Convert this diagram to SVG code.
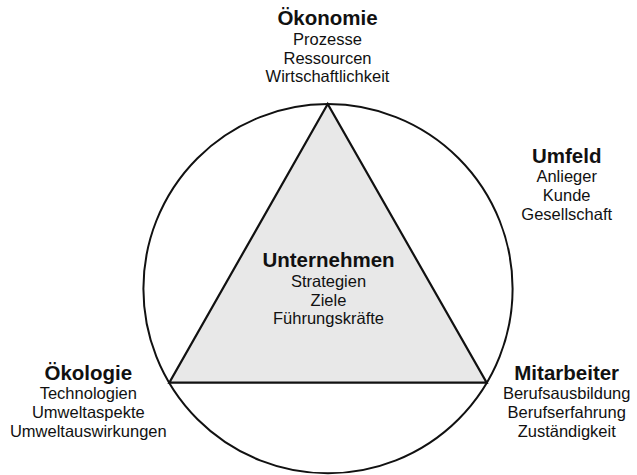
<svg xmlns="http://www.w3.org/2000/svg" width="637" height="475" viewBox="0 0 637 475">
<style>
.t{font-family:"Liberation Sans",Arial,sans-serif;font-weight:bold;font-size:20.5px;fill:#111;text-anchor:middle}
.s{font-family:"Liberation Sans",Arial,sans-serif;font-size:16.5px;fill:#111;text-anchor:middle}
.ln{fill:none;stroke:#111;stroke-width:2}
</style>
<rect width="637" height="475" fill="#fff"/>
<g id="connectors">
<circle class="ln" cx="328" cy="288.7" r="184.6" stroke-width="1.8"/>
</g>
<g id="unternehmen">
<polygon points="327.7,104 169.3,382.7 486.7,382.7" fill="#e8e8e8" stroke="#111" stroke-width="2.2" stroke-linejoin="miter"/>
<text class="t" x="328.5" y="266.7">Unternehmen</text>
<text class="s" x="328.5" y="287.3">Strategien</text>
<text class="s" x="328.5" y="305.7">Ziele</text>
<text class="s" x="328.5" y="324">Führungskräfte</text>
</g>
<g id="oekonomie">
<text class="t" x="327.5" y="25">Ökonomie</text>
<text class="s" x="327.5" y="44.5">Prozesse</text>
<text class="s" x="327.5" y="63.5">Ressourcen</text>
<text class="s" x="327.5" y="82.3">Wirtschaftlichkeit</text>
</g>
<g id="umfeld">
<text class="t" x="566.7" y="162.7">Umfeld</text>
<text class="s" x="566.7" y="181.7">Anlieger</text>
<text class="s" x="566.7" y="201">Kunde</text>
<text class="s" x="566.7" y="220">Gesellschaft</text>
</g>
<g id="mitarbeiter">
<text class="t" x="566.7" y="380">Mitarbeiter</text>
<text class="s" x="566.7" y="398.8">Berufsausbildung</text>
<text class="s" x="566.7" y="417.8">Berufserfahrung</text>
<text class="s" x="566.7" y="436.7">Zuständigkeit</text>
</g>
<g id="oekologie">
<text class="t" x="88.3" y="380">Ökologie</text>
<text class="s" x="88.3" y="398.8">Technologien</text>
<text class="s" x="88.3" y="418">Umweltaspekte</text>
<text class="s" x="88.3" y="437">Umweltauswirkungen</text>
</g>
</svg>
